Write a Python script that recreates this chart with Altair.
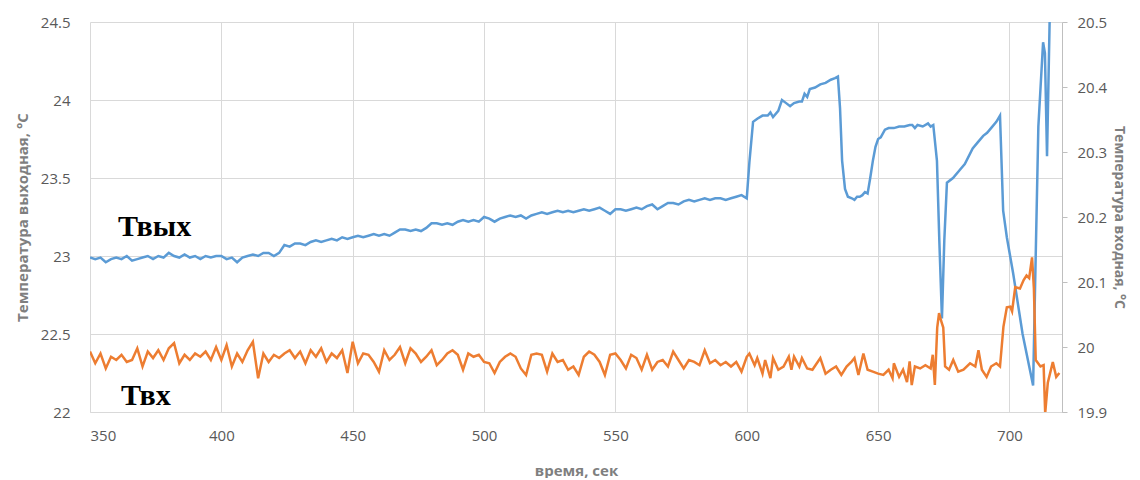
import altair as alt
import pandas as pd

# ---- Tвых (outlet temperature, left axis) ----
t_out_regular_start = 350
T_out_regular = [
    22.99, 22.98, 22.99, 22.96, 22.98, 22.99, 22.98, 23.00, 22.97, 22.98,
    22.99, 23.00, 22.98, 23.00, 22.99, 23.02, 23.00, 22.99, 23.01, 22.99,
    23.00, 22.98, 23.00, 22.99, 23.00, 23.00, 22.98, 22.99, 22.96, 22.99,
    23.00, 23.01, 23.00, 23.02, 23.02, 23.00, 23.02, 23.07, 23.06, 23.08,
    23.08, 23.07, 23.09, 23.10, 23.09, 23.10, 23.11, 23.10, 23.12, 23.11,
    23.12, 23.13, 23.12, 23.13, 23.14, 23.13, 23.14, 23.13, 23.15, 23.17,
    23.17, 23.16, 23.17, 23.16, 23.18, 23.21, 23.21, 23.20, 23.21, 23.20,
    23.22, 23.23, 23.22, 23.23, 23.22, 23.25, 23.24, 23.22, 23.24, 23.25,
    23.26, 23.25, 23.26, 23.24, 23.26, 23.27, 23.28, 23.27, 23.28, 23.29,
    23.28, 23.29, 23.28, 23.29, 23.30, 23.29, 23.30, 23.31, 23.29, 23.27,
    23.30, 23.30, 23.29, 23.30, 23.31, 23.30, 23.32, 23.33, 23.30, 23.32,
    23.34, 23.34, 23.33, 23.35, 23.36, 23.35, 23.36, 23.37, 23.36, 23.37,
    23.37, 23.36, 23.37, 23.38, 23.39, 23.37,
]
t_out_tail = [
    601, 602.4, 604, 606, 608, 609, 610, 612, 613.4, 615, 616.5, 618, 620, 621,
    622, 623, 624, 626, 628, 630, 632, 633.6, 634.7, 635.5, 636.3, 637.4, 638.5,
    640, 641, 642, 643, 644, 645, 646, 647, 648, 649, 650, 651, 652.6, 654, 656,
    658, 660, 662, 663, 664, 665, 667, 669, 670, 671, 672.4, 673.3, 674.3, 675.2,
    676.2, 678.5, 681, 683, 686, 688, 690, 691.5, 693, 695, 696.4, 697.6, 699,
    701.4, 705, 709, 709.7, 711, 712.8, 713.5, 714.3, 715.4,
]
T_out_tail = [
    23.60, 23.86, 23.88, 23.90, 23.90, 23.92, 23.89, 23.93, 24.00, 23.98, 23.96,
    23.98, 23.99, 23.99, 24.04, 24.02, 24.07, 24.08, 24.10, 24.11, 24.13, 24.14,
    24.15, 23.95, 23.61, 23.43, 23.38, 23.37, 23.36, 23.38, 23.38, 23.39, 23.41,
    23.40, 23.50, 23.61, 23.70, 23.75, 23.76, 23.81, 23.82, 23.82, 23.83, 23.83,
    23.84, 23.84, 23.82, 23.84, 23.83, 23.85, 23.83, 23.84, 23.61, 23.10, 22.60,
    23.10, 23.47, 23.50, 23.55, 23.59, 23.69, 23.73, 23.77, 23.79, 23.82, 23.86,
    23.90, 23.29, 23.12, 22.89, 22.50, 22.17, 22.76, 23.83, 24.37, 24.30, 23.64,
    24.60,
]

# ---- Tвх (inlet temperature, right axis) ----
t_in_regular_start = 350
T_in_regular = [
    19.993, 19.975, 19.990, 19.967, 19.985, 19.980, 19.988, 19.977, 19.980, 19.998,
    19.970, 19.993, 19.983, 19.995, 19.980, 19.998, 20.006, 19.975, 19.988, 19.980,
    19.990, 19.985, 19.993, 19.980, 20.000, 19.980, 20.003, 19.970, 19.990, 19.977,
    19.995, 20.008, 19.952, 19.990, 19.977, 19.988, 19.983, 19.990, 19.995, 19.983,
    19.993, 19.975, 19.995, 19.985, 19.998, 19.977, 19.990, 19.983, 19.995, 19.960,
    20.008, 19.975, 19.990, 19.988, 19.977, 19.962, 19.995, 19.980, 19.988, 20.000,
    19.975, 19.998, 19.990, 19.977, 19.985,
    19.995, 19.972, 19.980, 19.990, 19.995, 19.988, 19.965, 19.990, 19.985, 19.988,
    19.977, 19.975, 19.960, 19.977, 19.985, 19.990, 19.985, 19.967, 19.957, 19.988,
    19.990, 19.988, 19.962, 19.990, 19.977, 19.980, 19.965, 19.970, 19.957, 19.985,
    19.993, 19.988, 19.977, 19.957, 19.988, 19.990, 19.980, 19.967, 19.988, 19.983,
    19.965, 19.988, 19.965, 19.977, 19.980, 19.970, 19.993, 19.980, 19.967, 19.980,
    19.977, 19.972, 19.995, 19.975, 19.980, 19.972, 19.977, 19.970, 19.977, 19.962,
    19.985,
]
t_in_tail = [
    601, 603, 604, 606, 607, 609, 610, 612, 614, 616, 617, 618, 620, 621, 623, 625,
    628, 630, 632, 634, 636, 638, 640, 641, 642.5, 644.4, 646, 648, 650, 652, 654,
    655.5, 656, 658, 659.5, 661, 662, 662.8, 664, 666, 668, 670, 670.8, 671.6,
    672.5, 673.2, 674, 674.8, 675.5, 677, 678.6, 680.5, 682.5, 685, 687, 688.2,
    689.5, 691.3, 693, 695, 696.4, 697.7, 699, 700.3, 701, 702.2, 704, 705.4,
    706.5, 707.5, 708.6, 709.3, 710, 711.8, 713, 713.6, 714.6, 716.5, 717.8, 719,
]
T_in_tail = [
    19.990, 19.972, 19.983, 19.959, 19.980, 19.952, 19.983, 19.965, 19.970, 19.985,
    19.965, 19.985, 19.970, 19.983, 19.967, 19.965, 19.983, 19.959, 19.965, 19.970,
    19.957, 19.970, 19.978, 19.983, 19.957, 19.990, 19.965, 19.962, 19.959, 19.957,
    19.965, 19.952, 19.975, 19.954, 19.965, 19.946, 19.978, 19.9415, 19.970, 19.967,
    19.972, 19.967, 19.988, 19.9415, 20.030, 20.052, 20.040, 20.030, 19.970, 19.965,
    19.980, 19.962, 19.965, 19.975, 19.970, 19.995, 19.965, 19.954, 19.970, 19.975,
    19.970, 20.031, 20.061, 20.062, 20.055, 20.092, 20.090, 20.103, 20.110, 20.106,
    20.138, 20.090, 19.980, 19.970, 19.972, 19.898, 19.945, 19.977, 19.954, 19.960,
]

x_ticks = [350, 400, 450, 500, 550, 600, 650, 700]
left_ticks = [22, 22.5, 23, 23.5, 24, 24.5]
right_ticks = [19.9, 20, 20.1, 20.2, 20.3, 20.4, 20.5]

labels_text = ["Твых", "Твх"]
labels_t = [360.7, 361.8]
labels_v = [23.127, 22.045]

out_t = [t_out_regular_start + 2 * i for i in range(len(T_out_regular))] + t_out_tail
out_v = T_out_regular + T_out_tail
in_t = [t_in_regular_start + 2 * i for i in range(len(T_in_regular))] + t_in_tail
in_v = T_in_regular + T_in_tail

df_out = pd.DataFrame({"t": out_t, "v": out_v})
df_in = pd.DataFrame({"t": in_t, "v": in_v})
df_lab = pd.DataFrame({"t": labels_t, "v": labels_v, "txt": labels_text})

FONT = "Open Sans"
GRID = "#d9d9d9"
LBL = "#595959"

x_enc = alt.X(
    "t:Q",
    scale=alt.Scale(domain=[350, 720], nice=False, zero=False),
    axis=alt.Axis(
        values=x_ticks, title="время, сек", grid=True, gridColor=GRID,
        domainColor=GRID, ticks=False, labelFontSize=15, labelColor=LBL,
        labelFont=FONT, labelPadding=16, titleFont=FONT, titleFontSize=15,
        titleFontWeight="bold", titleColor="#7f7f7f", titlePadding=20,
    ),
)

left_scale = alt.Scale(domain=[22, 24.5], nice=False, zero=False)
left_axis = alt.Axis(
    values=left_ticks, format="~g", title="Температура выходная, °С",
    grid=True, gridColor=GRID, domain=False, ticks=False,
    labelFontSize=15, labelColor=LBL, labelFont=FONT, labelPadding=20,
    titleFont=FONT, titleFontSize=15, titleFontWeight="bold",
    titleColor="#7f7f7f", titlePadding=10,
)

blue = alt.Chart(df_out).mark_line(color="#5b9bd5", strokeWidth=2.5, clip=True).encode(
    x=x_enc,
    y=alt.Y("v:Q", scale=left_scale, axis=left_axis),
)

labels = alt.Chart(df_lab).mark_text(
    font="Liberation Serif", fontSize=30, fontWeight="bold", color="black",
    align="left", baseline="alphabetic",
).encode(
    x=alt.X("t:Q"),
    y=alt.Y("v:Q", scale=left_scale, axis=left_axis),
    text="txt:N",
)

orange = alt.Chart(df_in).mark_line(color="#ed7d31", strokeWidth=2.5, clip=True).encode(
    x=alt.X("t:Q"),
    y=alt.Y(
        "v:Q",
        scale=alt.Scale(domain=[19.9, 20.5], nice=False, zero=False),
        axis=alt.Axis(
            orient="right", values=right_ticks, format="~g",
            title="Температура входная, °С", grid=False,
            domainColor="#bfbfbf", tickColor="#bfbfbf", tickSize=5,
            labelFontSize=15, labelColor=LBL, labelFont=FONT, labelPadding=10,
            titleFont=FONT, titleFontSize=14, titleFontWeight="bold",
            titleColor="#7f7f7f", titlePadding=5,
        ),
    ),
)

chart = alt.layer(alt.layer(blue, labels), orange).resolve_scale(y="independent").properties(
    width=972, height=390,
    autosize=alt.AutoSizeParams(type="none"),
    padding={"left": 82, "top": 14, "right": 70, "bottom": 66},
).configure_view(stroke=None)

chart.save("out.html", embed_options={"renderer": "svg", "actions": False})
